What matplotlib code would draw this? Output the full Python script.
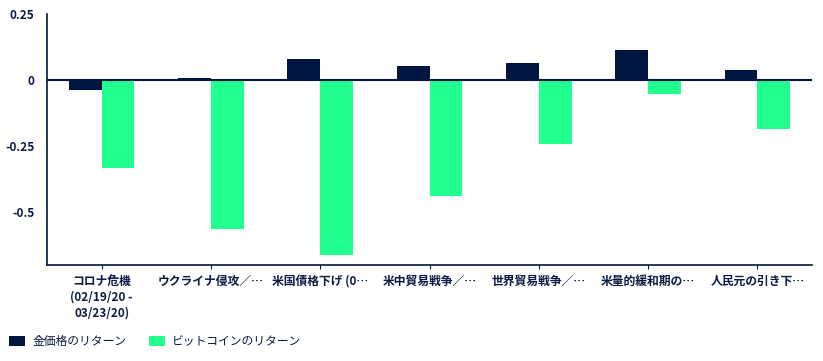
import numpy as np
import matplotlib
matplotlib.use("Agg")
import matplotlib.pyplot as plt

plt.rcParams['font.family'] = ['Noto Sans CJK JP', 'DejaVu Sans']

# data
categories = [
    "コロナ危機\n(02/19/20 -\n03/23/20)",
    "ウクライナ侵攻／⋯",
    "米国債格下げ (0⋯",
    "米中貿易戦争／⋯",
    "世界貿易戦争／⋯",
    "米量的緩和期の⋯",
    "人民元の引き下⋯",
]
gold_returns = [-0.036, 0.008, 0.081, 0.054, 0.066, 0.115, 0.039]
btc_returns = [-0.333, -0.564, -0.662, -0.437, -0.241, -0.052, -0.187]
series_names = ["金価格のリターン", "ビットコインのリターン"]
y_ticks = [0.25, 0, -0.25, -0.5]
y_tick_labels = ["0.25", "0", "-0.25", "-0.5"]

NAVY = "#001641"
GREEN = "#21FF8E"
TEXT = "#0B1A45"

fig = plt.figure(figsize=(8.23, 3.61), dpi=100)
ax = fig.add_axes([47/823, 1 - 265/361, (812 - 47)/823, (265 - 14)/361])

x = np.arange(len(categories))
w = 0.3
ax.bar(x - w/2, gold_returns, width=w, color=NAVY, label=series_names[0], zorder=2)
ax.bar(x + w/2, btc_returns, width=w, color=GREEN, label=series_names[1], zorder=2)
ax.axhline(0, color=NAVY, lw=1.5, zorder=3)

ax.set_xlim(-0.5, len(categories) - 0.5)
ax.set_ylim(-0.7, 0.25)
ax.set_yticks(y_ticks)
ax.set_yticklabels(y_tick_labels, fontsize=8.5, fontweight="bold", color=TEXT)
ax.set_xticks(x)
ax.set_xticklabels(categories, fontsize=8.5, fontweight="bold", color=TEXT,
                   linespacing=1.3)
ax.tick_params(axis="y", length=0, pad=9)
ax.tick_params(axis="x", length=3, color=NAVY, pad=4)

for s in ["top", "right"]:
    ax.spines[s].set_visible(False)
for s in ["left", "bottom"]:
    ax.spines[s].set_color(NAVY)
    ax.spines[s].set_linewidth(1.2)

fig.legend(loc="lower left", bbox_to_anchor=(0.0, 0.01), ncol=2, frameon=False,
           fontsize=8.5, labelcolor=TEXT, handlelength=1.35, handleheight=1.0,
           handletextpad=0.6, columnspacing=1.9, borderaxespad=0.4)

fig.savefig("out.png", dpi=100)
